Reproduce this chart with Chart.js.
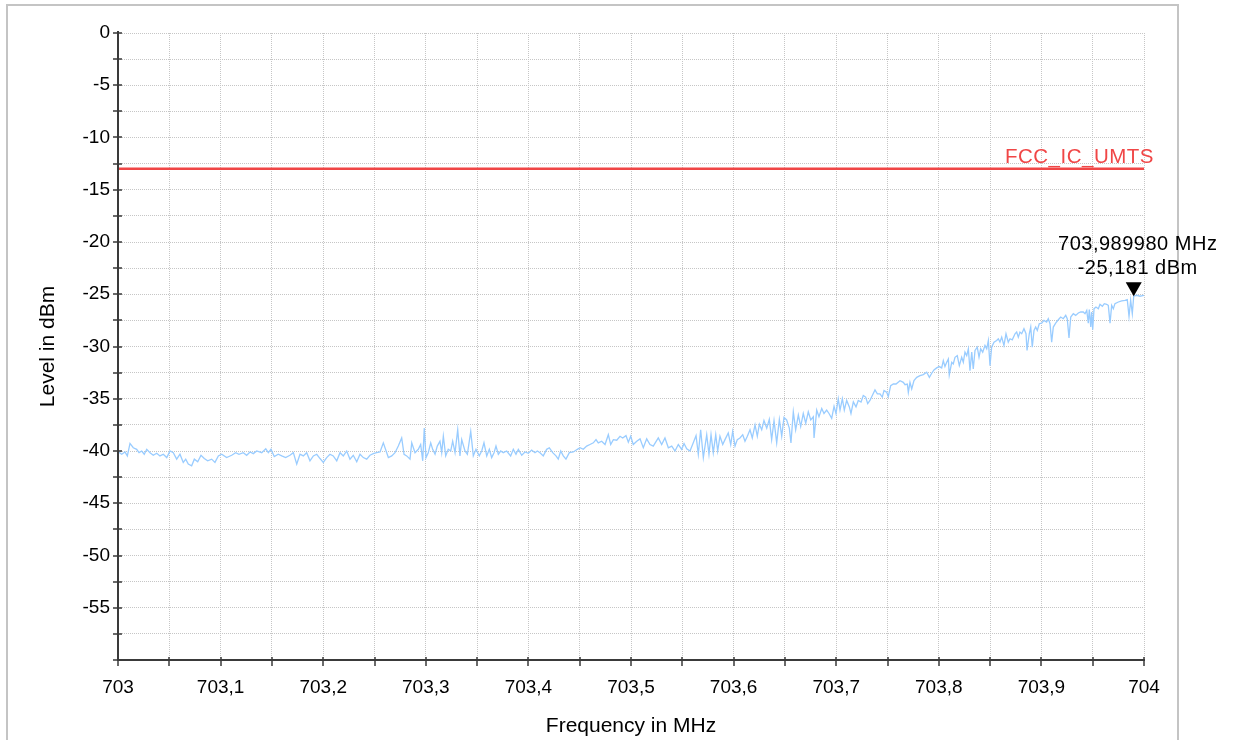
<!DOCTYPE html>
<html>
<head>
<meta charset="utf-8">
<script src="https://cdn.jsdelivr.net/npm/chart.js@4.4.1/dist/chart.umd.min.js"></script>
<style>
  html, body { margin: 0; padding: 0; background: #fff; overflow: hidden; }
  #frame { position: absolute; left: 6px; top: 4px; width: 1173px; height: 760px; border: 2px solid #c4c4c4; box-sizing: border-box; }
  #chart { position: absolute; left: 0; top: 0; }
</style>
</head>
<body>
<div id="frame"></div>
<canvas id="chart" width="1234" height="740"></canvas>
<script>
// sweep points: frequency (MHz) and measured level (dBm)
var freqMHz = [
  703.0000, 703.0036, 703.0068, 703.0091, 703.0117, 703.0149, 703.0182, 703.0205,
  703.0231, 703.0256, 703.0280, 703.0312, 703.0344, 703.0377, 703.0409, 703.0442,
  703.0475, 703.0507, 703.0539, 703.0572, 703.0604, 703.0636, 703.0660, 703.0685,
  703.0718, 703.0744, 703.0777, 703.0809, 703.0841, 703.0874, 703.0913, 703.0945,
  703.0978, 703.1011, 703.1059, 703.1108, 703.1147, 703.1179, 703.1221, 703.1254,
  703.1287, 703.1319, 703.1352, 703.1401, 703.1440, 703.1465, 703.1491, 703.1523,
  703.1562, 703.1596, 703.1634, 703.1676, 703.1709, 703.1742, 703.1774, 703.1806,
  703.1839, 703.1871, 703.1904, 703.1937, 703.1969, 703.2001, 703.2034, 703.2066,
  703.2098, 703.2132, 703.2164, 703.2196, 703.2229, 703.2261, 703.2293, 703.2327,
  703.2359, 703.2391, 703.2424, 703.2456, 703.2488, 703.2521, 703.2554, 703.2586,

  703.2635, 703.2668, 703.2700, 703.2732, 703.2765, 703.2788, 703.2814, 703.2846,
  703.2863, 703.2895, 703.2927, 703.2950, 703.2970, 703.2985, 703.3002, 703.3024,
  703.3048, 703.3067, 703.3090, 703.3112, 703.3138, 703.3155, 703.3171, 703.3194,
  703.3219, 703.3243, 703.3262, 703.3285, 703.3311, 703.3333, 703.3350, 703.3382,
  703.3405, 703.3438, 703.3463, 703.3489, 703.3521, 703.3545, 703.3567, 703.3594,
  703.3619, 703.3642, 703.3665, 703.3684, 703.3707, 703.3730, 703.3755, 703.3788,
  703.3827, 703.3853, 703.3879, 703.3902, 703.3935, 703.3967, 703.3999, 703.4032,
  703.4064, 703.4087, 703.4113, 703.4145, 703.4178, 703.4204, 703.4237, 703.4269,
  703.4291, 703.4315, 703.4340, 703.4366, 703.4399, 703.4438, 703.4477, 703.4503,
  703.4535, 703.4568, 703.4600, 703.4633, 703.4659, 703.4681, 703.4714, 703.4747,
  703.4779, 703.4802, 703.4828, 703.4861, 703.4893, 703.4919, 703.4951, 703.4974,
  703.4997, 703.5022, 703.5056, 703.5088,

  703.5120, 703.5153, 703.5185, 703.5217, 703.5266, 703.5299, 703.5331, 703.5364,
  703.5397, 703.5429, 703.5461, 703.5494, 703.5517, 703.5543, 703.5575, 703.5607,
  703.5634, 703.5656, 703.5679, 703.5705, 703.5738, 703.5760, 703.5780, 703.5802,
  703.5826, 703.5845, 703.5867, 703.5894, 703.5916, 703.5948, 703.5972, 703.5991,
  703.6014, 703.6036, 703.6062, 703.6089, 703.6111, 703.6134, 703.6160, 703.6182,
  703.6209, 703.6231, 703.6251, 703.6274, 703.6296, 703.6323, 703.6348, 703.6371,
  703.6394, 703.6420, 703.6446, 703.6469, 703.6491, 703.6517, 703.6543, 703.6559,
  703.6582, 703.6605, 703.6631, 703.6654, 703.6679, 703.6703, 703.6728, 703.6752,
  703.6777, 703.6784, 703.6810, 703.6832, 703.6859, 703.6881, 703.6907, 703.6930,
  703.6956, 703.6979, 703.6998, 703.7020, 703.7037, 703.7060, 703.7079, 703.7102,
  703.7128, 703.7144, 703.7167, 703.7193, 703.7215, 703.7242, 703.7264, 703.7287,
  703.7307, 703.7329, 703.7352, 703.7378, 703.7401, 703.7427, 703.7449, 703.7466,
  703.7492, 703.7508, 703.7531, 703.7557, 703.7583,

  703.7622, 703.7654, 703.7671, 703.7693, 703.7703, 703.7719, 703.7736, 703.7758,
  703.7785, 703.7817, 703.7849, 703.7882, 703.7908, 703.7931, 703.7953, 703.7979,
  703.8005, 703.8028, 703.8044, 703.8060, 703.8077, 703.8093, 703.8102, 703.8126,
  703.8141, 703.8158, 703.8180, 703.8200, 703.8223, 703.8239, 703.8255, 703.8272,
  703.8288, 703.8304, 703.8321, 703.8336, 703.8353, 703.8375, 703.8392, 703.8408,
  703.8428, 703.8450, 703.8467, 703.8483, 703.8499, 703.8515, 703.8538, 703.8564,
  703.8580, 703.8596, 703.8613, 703.8635, 703.8655, 703.8677, 703.8694, 703.8716,
  703.8743, 703.8759, 703.8775, 703.8791, 703.8808, 703.8830, 703.8850, 703.8860,
  703.8882, 703.8896, 703.8911, 703.8928, 703.8944, 703.8960, 703.8979, 703.9003,
  703.9025, 703.9051, 703.9067, 703.9084, 703.9100, 703.9116, 703.9139, 703.9165,
  703.9188, 703.9213, 703.9237, 703.9252, 703.9269, 703.9286, 703.9311, 703.9334,
  703.9360, 703.9383, 703.9408, 703.9425, 703.9442, 703.9457, 703.9467, 703.9481,
  703.9490, 703.9500, 703.9513, 703.9532, 703.9555, 703.9571, 703.9594, 703.9613,
  703.9636, 703.9652, 703.9669, 703.9685, 703.9701, 703.9717, 703.9750, 703.9783,
  703.9815, 703.9837, 703.9854, 703.9870, 703.9886, 703.98998, 703.9929, 703.9961,
  704.0000
];

var levelDbm = [
  -40.06, -40.31, -40.09, -40.47, -39.28, -39.69, -39.84, -40.16,
  -40.00, -40.31, -39.84, -40.16, -40.41, -40.22, -40.47, -40.31,
  -40.63, -40.00, -40.16, -40.78, -40.31, -41.09, -40.78, -41.25,
  -41.41, -40.78, -41.03, -40.41, -40.72, -40.94, -40.78, -41.09,
  -40.47, -40.31, -40.63, -40.41, -40.16, -40.31, -40.16, -40.41,
  -40.09, -40.25, -40.00, -40.16, -39.78, -40.16, -39.84, -40.53,
  -40.31, -40.47, -40.63, -40.41, -40.16, -41.25, -40.31, -40.47,
  -40.16, -40.94, -40.47, -40.31, -40.72, -41.09, -40.63, -40.31,
  -40.47, -40.94, -40.16, -40.47, -40.00, -40.78, -40.41, -41.03,
  -40.31, -40.63, -40.78, -40.41, -40.25, -40.16, -40.09, -39.22,

  -40.63, -40.47, -40.16, -39.53, -38.75, -40.31, -40.47, -40.78,
  -39.22, -40.16, -39.84, -39.38, -40.94, -37.81, -40.63, -40.16,
  -39.22, -39.84, -40.31, -39.53, -39.06, -40.16, -38.59, -40.47,
  -39.84, -40.00, -39.06, -40.16, -37.97, -40.47, -38.91, -40.00,
  -40.31, -38.13, -40.47, -39.84, -40.47, -40.00, -39.22, -40.47,
  -39.84, -40.63, -40.16, -39.53, -40.31, -40.00, -40.16, -40.00,
  -40.47, -39.84, -40.31, -39.84, -40.41, -40.09, -40.22, -39.91,
  -40.16, -40.00, -40.16, -40.47, -39.84, -39.69, -40.16, -40.47,
  -40.78, -40.00, -40.47, -40.78, -40.16, -40.09, -39.84, -39.69,
  -39.84, -39.53, -39.38, -39.22, -38.91, -39.22, -39.06, -39.38,
  -38.44, -39.38, -38.91, -38.97, -38.59, -38.75, -38.53, -39.16,
  -38.59, -39.38, -39.06, -38.84,

  -39.69, -38.84, -39.38, -39.53, -38.75, -39.38, -38.75, -39.69,
  -39.53, -40.00, -39.38, -39.84, -39.28, -39.78, -40.00, -39.22,
  -38.53, -40.31, -37.97, -40.63, -38.44, -40.31, -38.44, -40.16,
  -38.44, -40.00, -38.59, -39.38, -38.91, -38.28, -39.38, -38.13,
  -39.53, -38.91, -38.75, -38.44, -39.06, -38.59, -37.97, -38.75,
  -37.50, -38.59, -37.44, -37.97, -37.09, -37.81, -36.97, -38.91,
  -37.09, -39.22, -36.97, -38.59, -36.78, -37.03, -37.81, -39.22,
  -36.25, -37.97, -36.56, -37.66, -36.41, -37.34, -36.25, -37.03,
  -36.72, -38.75, -36.09, -36.72, -35.94, -36.41, -36.09, -36.41,
  -36.88, -35.72, -36.41, -35.00, -36.09, -35.00, -36.09, -35.16,
  -35.78, -36.41, -35.31, -35.78, -35.16, -35.31, -34.69, -34.84,
  -35.47, -35.16, -34.69, -34.16, -34.53, -34.53, -34.84, -34.22,
  -34.38, -34.78, -33.75, -33.59, -33.59,

  -33.27, -33.43, -33.65, -33.59, -34.39, -33.43, -34.07, -33.27,
  -32.95, -32.79, -32.69, -32.47, -32.95, -32.56, -32.24, -32.05,
  -31.92, -32.05, -31.35, -31.92, -31.51, -31.19, -32.72, -31.51,
  -31.67, -31.03, -30.87, -31.83, -31.03, -31.51, -30.54, -30.87,
  -30.22, -32.31, -30.54, -32.15, -30.38, -30.06, -31.03, -30.22,
  -30.54, -29.90, -30.22, -29.42, -31.83, -30.06, -29.58, -29.42,
  -29.26, -29.58, -29.10, -29.90, -28.78, -29.58, -29.26, -29.36,
  -28.78, -28.62, -29.10, -28.62, -28.78, -28.30, -28.78, -30.38,
  -28.78, -28.14, -30.06, -28.46, -28.14, -28.46, -27.82, -27.76,
  -27.50, -27.66, -27.34, -27.82, -29.58, -28.14, -27.76, -27.44,
  -27.18, -27.34, -27.02, -27.34, -29.17, -27.18, -26.86, -27.02,
  -26.79, -26.70, -26.70, -26.86, -26.54, -27.76, -26.47, -28.14,
  -26.70, -28.40, -26.38, -26.22, -26.38, -25.96, -26.15, -25.90,
  -25.96, -26.06, -27.76, -26.06, -26.38, -25.90, -25.74, -25.64,
  -25.58, -25.51, -27.12, -25.58, -26.86, -25.181, -25.10, -25.19,
  -25.10
];

// limit line
var limitName = 'FCC_IC_UMTS';
var limitFreq = [703, 704];
var limitLevel = [-13, -13];

// marker
var markerFreq = 703.98998;
var markerLevel = -25.181;

// axis labels
var freqTickLabels = ['703', '703,1', '703,2', '703,3', '703,4', '703,5', '703,6', '703,7', '703,8', '703,9', '704'];
var levelTickLabels = ['0', '-5', '-10', '-15', '-20', '-25', '-30', '-35', '-40', '-45', '-50', '-55'];

var traceColor = '#99ccff';
var limitColor = '#f04646';
var axisColor = '#3a3a3a';
var gridColor = '#c6c6c6';
var fontFamily = '"Liberation Sans", Arial, sans-serif';

Chart.defaults.font.family = fontFamily;
Chart.defaults.color = '#000';

function toPoints(xs, ys) {
    return xs.map(function (x, i) { return {x: x, y: ys[i]}; });
}

// axis lines with crossing tick marks
var axisLines = {
    id: 'axisLines',
    afterDatasetsDraw: function (chart) {
        var c = chart.ctx, a = chart.chartArea, x = chart.scales.x, y = chart.scales.y;
        c.save();
        c.strokeStyle = axisColor;
        c.lineWidth = 2;
        c.beginPath();
        c.moveTo(a.left, a.top - 2);
        c.lineTo(a.left, a.bottom + 1);
        c.moveTo(a.left - 1, a.bottom);
        c.lineTo(a.right + 1, a.bottom);
        c.stroke();
        c.lineWidth = 1.5;
        c.beginPath();
        y.ticks.forEach(function (t) {
            var py = Math.round(y.getPixelForValue(t.value));
            c.moveTo(a.left - 5, py);
            c.lineTo(a.left + 4, py);
        });
        x.ticks.forEach(function (t) {
            var px = Math.round(x.getPixelForValue(t.value));
            c.moveTo(px, a.bottom - 3);
            c.lineTo(px, a.bottom + 6);
        });
        c.stroke();
        c.restore();
    }
};

// limit name and marker readout
var annotations = {
    id: 'annotations',
    afterDatasetsDraw: function (chart) {
        var c = chart.ctx, a = chart.chartArea, y = chart.scales.y;
        c.save();
        c.letterSpacing = '0.5px';

        var ly = y.getPixelForValue(limitLevel[limitLevel.length - 1]);
        c.fillStyle = limitColor;
        c.font = '20.5px ' + fontFamily;
        c.textAlign = 'right';
        c.textBaseline = 'middle';
        c.fillText(limitName, a.right + 10, ly - 12);

        var m = chart.getDatasetMeta(2).data[0];
        c.fillStyle = '#000';
        c.beginPath();
        c.moveTo(m.x, m.y);
        c.lineTo(m.x - 8, m.y - 14);
        c.lineTo(m.x + 8, m.y - 14);
        c.closePath();
        c.fill();

        c.font = '20px ' + fontFamily;
        c.textAlign = 'center';
        c.fillText(markerFreq.toFixed(6).replace('.', ',') + ' MHz', m.x + 4, m.y - 52);
        c.fillText(markerLevel.toFixed(3).replace('.', ',') + ' dBm', m.x + 4, m.y - 28);
        c.restore();
    }
};

var ctx = document.getElementById('chart');
var chart = new Chart(ctx, {
    type: 'line',
    data: {
        datasets: [{
            label: 'Trace',
            data: toPoints(freqMHz, levelDbm),
            borderColor: traceColor,
            borderWidth: 1.3,
            pointRadius: 0,
            tension: 0
        }, {
            label: limitName,
            data: toPoints(limitFreq, limitLevel),
            borderColor: limitColor,
            borderWidth: 2.5,
            pointRadius: 0
        }, {
            label: 'Marker',
            data: [{x: markerFreq, y: markerLevel}],
            showLine: false,
            pointRadius: 0
        }]
    },
    options: {
        responsive: false,
        animation: false,
        layout: {padding: {top: 33, right: 90, left: 0, bottom: 0}},
        plugins: {
            legend: {display: false},
            tooltip: {enabled: false}
        },
        scales: {
            x: {
                type: 'linear',
                min: 703,
                max: 704,
                afterFit: function (s) { s.height = 80; },
                border: {display: false, dash: [1, 1]},
                grid: {color: gridColor, lineWidth: 1, drawTicks: false},
                ticks: {
                    stepSize: 0.05,
                    autoSkip: false,
                    maxRotation: 0,
                    padding: 16,
                    font: {size: 19},
                    callback: function (v, i) {
                        return i % 2 === 0 ? freqTickLabels[i / 2] : '';
                    }
                },
                title: {
                    display: true,
                    text: 'Frequency in MHz',
                    font: {size: 21},
                    padding: {top: 0, bottom: 1}
                }
            },
            y: {
                min: -60,
                max: 0,
                afterFit: function (s) { s.width = 118; },
                border: {display: false, dash: [1, 1]},
                grid: {color: gridColor, lineWidth: 1, drawTicks: false},
                ticks: {
                    stepSize: 2.5,
                    autoSkip: false,
                    padding: 8,
                    font: {size: 19},
                    callback: function (v) {
                        var k = -v / 5;
                        if (Math.abs(k - Math.round(k)) > 1e-6) return '';
                        return levelTickLabels[Math.round(k)] || '';
                    }
                },
                title: {
                    display: true,
                    text: 'Level in dBm',
                    font: {size: 21},
                    padding: {top: 36, bottom: 0}
                }
            }
        }
    },
    plugins: [axisLines, annotations]
});
</script>
</body>
</html>
